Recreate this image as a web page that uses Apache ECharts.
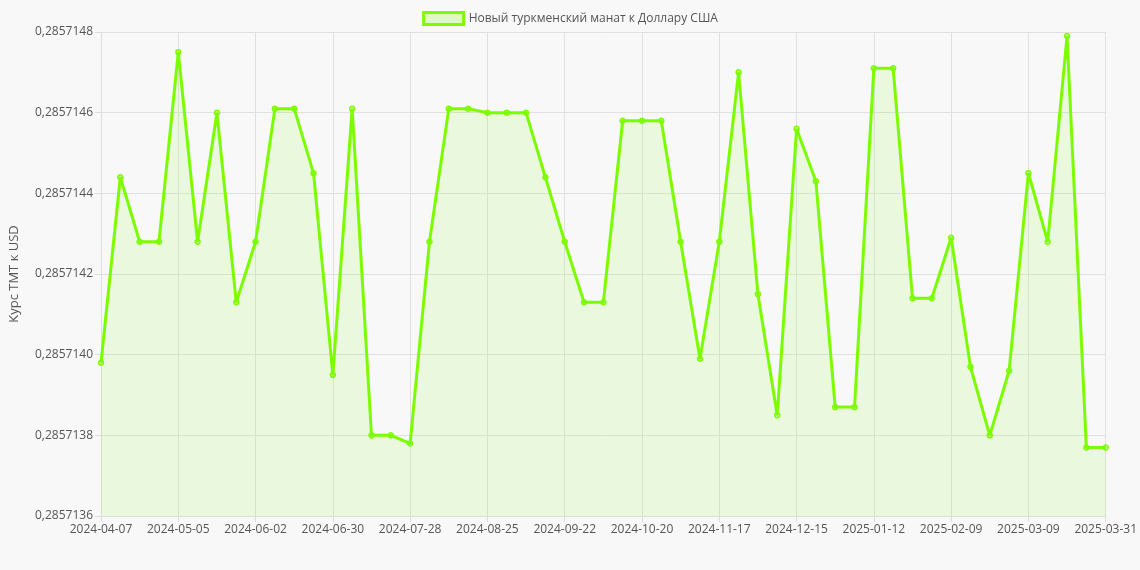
<!DOCTYPE html>
<html><head><meta charset="utf-8">
<script src="https://cdn.jsdelivr.net/npm/echarts@6/dist/echarts.min.js"></script>
<style>html,body{margin:0;background:#f8f8f8}#c{width:1140px;height:570px}</style>
</head><body><div id="c"></div>
<script>
const categories = ["2024-04-07","2024-04-14","2024-04-21","2024-04-28","2024-05-05","2024-05-12","2024-05-19","2024-05-26","2024-06-02","2024-06-09","2024-06-16","2024-06-23","2024-06-30","2024-07-07","2024-07-14","2024-07-21","2024-07-28","2024-08-04","2024-08-11","2024-08-18","2024-08-25","2024-09-01","2024-09-08","2024-09-15","2024-09-22","2024-09-29","2024-10-06","2024-10-13","2024-10-20","2024-10-27","2024-11-03","2024-11-10","2024-11-17","2024-11-24","2024-12-01","2024-12-08","2024-12-15","2024-12-22","2024-12-29","2025-01-05","2025-01-12","2025-01-19","2025-01-26","2025-02-02","2025-02-09","2025-02-16","2025-02-23","2025-03-02","2025-03-09","2025-03-16","2025-03-23","2025-03-30","2025-03-31"];
const values = [0.28571398,0.28571444,0.28571428,0.28571428,0.28571475,0.28571428,0.28571460,0.28571413,0.28571428,0.28571461,0.28571461,0.28571445,0.28571395,0.28571461,0.28571380,0.28571380,0.28571378,0.28571428,0.28571461,0.28571461,0.28571460,0.28571460,0.28571460,0.28571444,0.28571428,0.28571413,0.28571413,0.28571458,0.28571458,0.28571458,0.28571428,0.28571399,0.28571428,0.28571470,0.28571415,0.28571385,0.28571456,0.28571443,0.28571387,0.28571387,0.28571471,0.28571471,0.28571414,0.28571414,0.28571429,0.28571397,0.28571380,0.28571396,0.28571445,0.28571428,0.28571479,0.28571377,0.28571377];
const seriesName = "Новый туркменский манат к Доллару США";
const yName = "Курс ТМТ к USD";
const chart = echarts.init(document.getElementById('c'));
chart.setOption({
  backgroundColor:'#f8f8f8',
  textStyle:{fontFamily:'Open Sans, sans-serif'},
  legend:{top:6,itemWidth:40,itemHeight:12,icon:'rect',textStyle:{fontSize:12,color:'#555'},
    data:[{name:seriesName,itemStyle:{color:'rgba(124,252,0,0.2)',borderColor:'#7cfc00',borderWidth:3}}]},
  grid:{left:95,right:34,top:32,bottom:54},
  xAxis:{type:'category',data:categories,boundaryGap:false,
    axisLabel:{interval:3,color:'#555',fontSize:12,margin:8},
    axisTick:{show:true,interval:3,length:6,lineStyle:{color:'#ddd'}},
    axisLine:{lineStyle:{color:'#ddd'}},
    splitLine:{show:true,interval:3,lineStyle:{color:'#e0e0e0'}}},
  yAxis:{type:'value',min:0.2857136,max:0.2857148,interval:0.0000002,
    name:yName,nameLocation:'middle',nameGap:80,nameTextStyle:{color:'#555',fontSize:13},
    axisLabel:{color:'#555',fontSize:12,formatter:v=>v.toFixed(7).replace('.',',')},
    axisLine:{show:true,lineStyle:{color:'#ddd'}},axisTick:{show:true,length:6,lineStyle:{color:'#ddd'}},
    splitLine:{lineStyle:{color:'#e0e0e0'}}},
  series:[{name:seriesName,type:'line',data:values,symbol:'circle',symbolSize:5,
    itemStyle:{color:'rgba(124,252,0,0.3)',borderColor:'#7cfc00',borderWidth:1.5},
    lineStyle:{color:'#7cfc00',width:3},
    areaStyle:{color:'rgba(124,252,0,0.15)'}}]
});
</script></body></html>
